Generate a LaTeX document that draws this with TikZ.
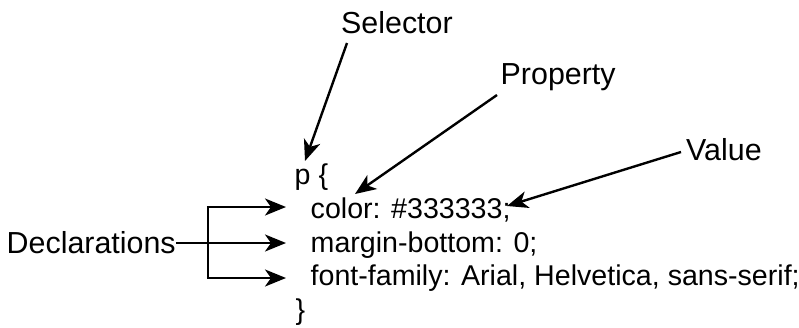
\documentclass[tikz,border=0pt]{standalone}
\usepackage{fontspec}
\setmainfont{Liberation Sans}
\usetikzlibrary{arrows.meta}
\begin{document}
\begin{tikzpicture}[x=1pt,y=-1pt,
  lbl/.style={anchor=base west,inner sep=0pt,font=\fontsize{30.4}{34}\selectfont},
  code/.style={anchor=base west,inner sep=0pt,font=\fontsize{28.6}{34}\selectfont},
  arr/.style={line width=2.4pt,-{Stealth[length=21pt,width=17pt,inset=6pt]}},
  ln/.style={line width=2.4pt}]
\useasboundingbox (0,0) rectangle (799,327);
% labels
\node[lbl] (sel) at (341,33) {Selector};
\node[lbl] (prop) at (500.5,84) {Property};
\node[lbl] (val) at (686,160) {Value};
\node[lbl] (decl) at (6.5,253) {Declarations};
% code
\node[code] (pl) at (294.5,184) {p \{};
\node[code] (cl) at (310.5,218) {color: \#333333;};
\node[code] (ml) at (310.5,252) {margin-bottom: 0;};
\node[code] (fl) at (310.5,285) {font-family: Arial, Helvetica, sans-serif;};
\node[code] (bl) at (295.5,319) {\}};
% connector ends
\coordinate (selS) at (347,43);
\coordinate (selT) at (305,161);
\coordinate (propS) at (497,95);
\coordinate (propT) at (355,194);
\coordinate (valS) at (681,152);
\coordinate (valT) at (507,206);
\coordinate (dS) at (176,243);
\coordinate (bx) at (208,243);
\coordinate (t1) at (286,207);
\coordinate (t2) at (286,243);
\coordinate (t3) at (286,278);
\draw[arr] (selS) -- (selT);
\draw[arr] (propS) -- (propT);
\draw[arr] (valS) -- (valT);
\draw[arr] (dS) -- (t2);
\draw[ln] (bx |- t1) -- (bx |- t3);
\draw[arr] ([xshift=-1.2pt]bx |- t1) -- (t1);
\draw[arr] ([xshift=-1.2pt]bx |- t3) -- (t3);
\end{tikzpicture}
\end{document}
